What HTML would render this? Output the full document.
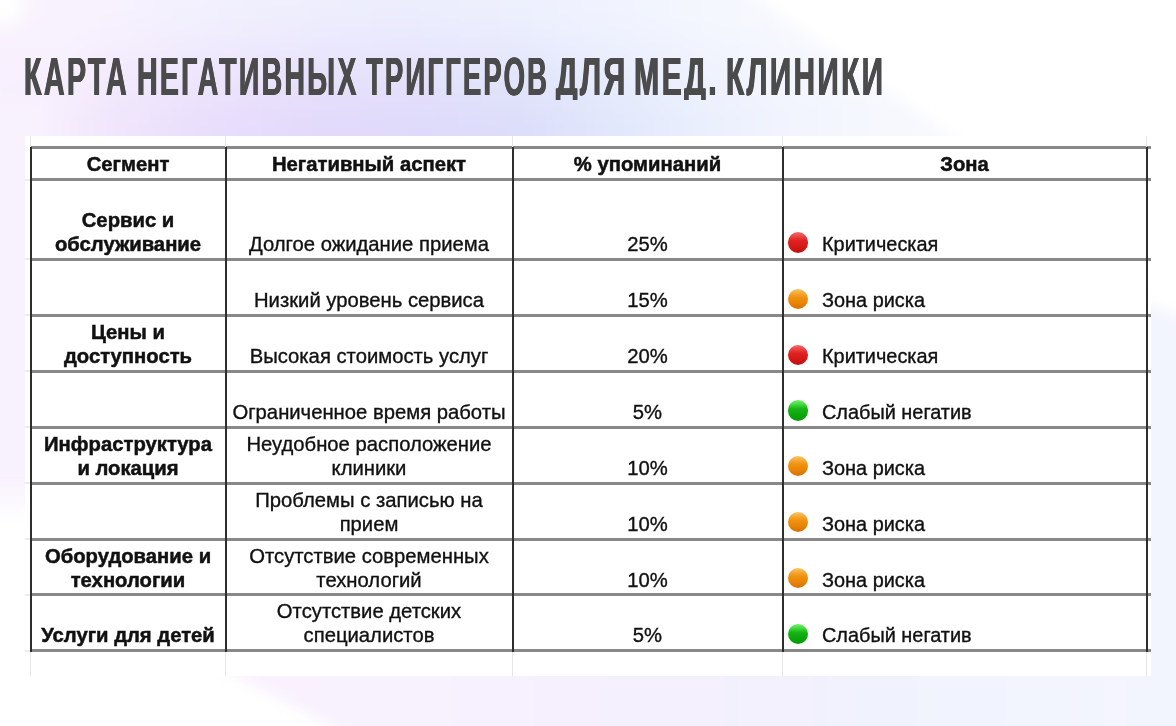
<!DOCTYPE html>
<html><head><meta charset="utf-8"><title>Карта негативных триггеров</title>
<style>
html,body{margin:0;padding:0}
body{width:1176px;height:726px;position:relative;overflow:hidden;background:#fff;font-family:"Liberation Sans",Arial,sans-serif}
#bg{position:absolute;left:0;top:0;width:1176px;height:726px;overflow:hidden}
.blur{position:absolute;left:0;top:0;width:1176px;height:726px;filter:blur(7px)}
.blob{position:absolute}
#topblob{left:-60px;top:-60px;width:1300px;height:240px;
 clip-path:polygon(0 0, 734px 0, 1074px 240px, 0 240px);
 background:linear-gradient(90deg, #f8f0fd 0px, #f6edfd 120px, #f1e6fc 170px, #eadefc 260px, #e4dafb 360px, #dfdafb 480px, #dcdefa 580px, #e2e8fc 680px, #eaeffd 760px, #f1f4fe 840px, #f6f8fe 940px, #f9fafe 1100px);}
#toplight{left:-60px;top:-60px;width:1300px;height:240px;
 clip-path:polygon(0 0, 734px 0, 1074px 240px, 0 240px);
 background:linear-gradient(90deg, #f9f3fe 0px, #f8f2fe 150px, #f3f1fe 240px, #efeffd 340px, #ecedfd 460px, #edf0fd 580px, #f1f4fe 680px, #f5f7fe 780px, #f9fafe 900px);
 -webkit-mask-image:linear-gradient(180deg, #000 60px, rgba(0,0,0,0.85) 90px, rgba(0,0,0,0.45) 130px, rgba(0,0,0,0.1) 175px, rgba(0,0,0,0) 196px);
 mask-image:linear-gradient(180deg, #000 60px, rgba(0,0,0,0.85) 90px, rgba(0,0,0,0.45) 130px, rgba(0,0,0,0.1) 175px, rgba(0,0,0,0) 196px);}
#leftblob{left:-40px;top:100px;width:90px;height:440px;
 background:linear-gradient(180deg,#f8f1fe 0px,#f8f1fe 375px,rgba(248,241,254,0) 425px)}
#botblob{left:0;top:656px;width:1240px;height:100px;
 clip-path:polygon(198px 0, 1240px 0, 1240px 100px, 388px 100px);
 background:linear-gradient(90deg,#f9f2fe 230px,#f7f0fe 500px,#f4f0fd 700px,#f0f2fd 880px,#f2f4fe 1060px,#f6f7fe 1176px)}
#rightblob{left:1130px;top:298px;width:80px;height:470px;
 clip-path:polygon(0 0, 100% 30px, 100% 100%, 0 100%);
 background:#f2f4fe}
#corner{left:-25px;top:-25px;width:56px;height:56px;border-radius:50%;background:radial-gradient(circle,#fff 35%,rgba(255,255,255,0) 70%)}
h1{position:absolute;left:0;top:50px;margin:0;width:1176px;height:49.5px;overflow:hidden;font-weight:bold;font-size:53.2px;line-height:1;white-space:nowrap;color:#4b4b4b}
h1 span{position:absolute;top:0;transform-origin:0 0;letter-spacing:4.2px;text-shadow:0.7px 0 0 #4b4b4b,-0.7px 0 0 #4b4b4b}
#box{position:absolute;left:25px;top:136px;width:1126px;height:540px;background:#fff}
.hl{position:absolute;left:30px;width:1121px;height:3px;background:#888}
.vl{position:absolute;top:147px;height:505px;width:2px;background:#2e2e2e}
.fv{position:absolute;width:1px;background:#e6e6e6}
.fh{position:absolute;left:25px;width:5px;height:2px;background:#ececec}
.t{position:absolute;font-size:20.25px;line-height:24px;height:24px;white-space:nowrap;text-align:center;color:#111;-webkit-text-stroke:0.35px #111}
.t.l{text-align:left}
.b{font-weight:bold;-webkit-text-stroke:0.5px #111}
.dot{position:absolute;left:788px;width:20.4px;height:20.4px;border-radius:50%}
.red{background:linear-gradient(180deg, #f06a6a 0%, #ec4a4a 18%, #e02222 40%, #d41818 70%, #bf1010 100%)}
.orange{background:linear-gradient(180deg, #f9c46a 0%, #f6ae3e 18%, #ef920f 42%, #e88406 70%, #d87000 100%)}
.green{background:linear-gradient(180deg, #6ef06a 0%, #4ade45 18%, #18b418 42%, #0aa60a 70%, #089a08 100%)}
</style></head><body>
<div id="bg"><div class="blur"><div class="blob" id="topblob"></div><div class="blob" id="toplight"></div><div class="blob" id="leftblob"></div><div class="blob" id="botblob"></div><div class="blob" id="rightblob"></div><div class="blob" id="corner"></div></div></div>
<h1 id="title"><span style="left:24.38px;transform:scaleX(0.5409)">КАРТА</span> <span style="left:136.69px;transform:scaleX(0.536)">НЕГАТИВНЫХ</span> <span style="left:365.5px;transform:scaleX(0.5167)">ТРИГГЕРОВ</span> <span style="left:556.0px;transform:scaleX(0.5681)">ДЛЯ</span> <span style="left:633.79px;transform:scaleX(0.5698)">МЕД.</span> <span style="left:725.82px;transform:scaleX(0.56)">КЛИНИКИ</span></h1>
<div id="box"></div>
<div class="hl" style="top:146.3px"></div>
<div class="hl" style="top:178.0px"></div>
<div class="hl" style="top:257.8px"></div>
<div class="hl" style="top:313.9px"></div>
<div class="hl" style="top:369.9px"></div>
<div class="hl" style="top:425.7px"></div>
<div class="hl" style="top:481.5px"></div>
<div class="hl" style="top:537.5px"></div>
<div class="hl" style="top:593.4px"></div>
<div class="hl" style="top:649.1px"></div>
<div class="vl" style="left:30.00px"></div>
<div class="fv" style="left:30.0px;top:136px;height:11px"></div>
<div class="fv" style="left:30.0px;top:652px;height:24px"></div>
<div class="vl" style="left:225.00px"></div>
<div class="fv" style="left:225.0px;top:136px;height:11px"></div>
<div class="fv" style="left:225.0px;top:652px;height:24px"></div>
<div class="vl" style="left:512.00px"></div>
<div class="fv" style="left:512.0px;top:136px;height:11px"></div>
<div class="fv" style="left:512.0px;top:652px;height:24px"></div>
<div class="vl" style="left:782.00px"></div>
<div class="fv" style="left:782.0px;top:136px;height:11px"></div>
<div class="fv" style="left:782.0px;top:652px;height:24px"></div>
<div class="vl" style="left:1146.00px"></div>
<div class="fv" style="left:1146.0px;top:136px;height:11px"></div>
<div class="fv" style="left:1146.0px;top:652px;height:24px"></div>
<div class="fh" style="top:178.5px"></div>
<div class="fh" style="top:258.3px"></div>
<div class="fh" style="top:314.4px"></div>
<div class="fh" style="top:370.4px"></div>
<div class="fh" style="top:426.2px"></div>
<div class="fh" style="top:482.0px"></div>
<div class="fh" style="top:538.0px"></div>
<div class="fh" style="top:593.9px"></div>
<div class="fh" style="top:649.6px"></div>
<div class="t b" style="left:-22.0px;top:152.07px;width:300px">Сегмент</div>
<div class="t b" style="left:219.0px;top:152.07px;width:300px">Негативный аспект</div>
<div class="t b" style="left:497.5px;top:152.07px;width:300px">% упоминаний</div>
<div class="t b" style="left:814.5px;top:152.07px;width:300px">Зона</div>
<div class="t b" style="left:-22.0px;top:208.17px;width:300px">Сервис и</div>
<div class="t b" style="left:-22.0px;top:232.17px;width:300px">обслуживание</div>
<div class="t n" style="left:219.0px;top:232.17px;width:300px">Долгое ожидание приема</div>
<div class="t n" style="left:497.5px;top:232.17px;width:300px">25%</div>
<div class="dot red" style="top:232.40px"></div>
<div class="t n l" style="left:822.0px;top:232.17px;font-size:19.9px">Критическая</div>
<div class="t n" style="left:219.0px;top:288.27px;width:300px">Низкий уровень сервиса</div>
<div class="t n" style="left:497.5px;top:288.27px;width:300px">15%</div>
<div class="dot orange" style="top:288.50px"></div>
<div class="t n l" style="left:822.0px;top:288.27px;font-size:19.9px">Зона риска</div>
<div class="t b" style="left:-22.0px;top:320.27px;width:300px">Цены и</div>
<div class="t b" style="left:-22.0px;top:344.27px;width:300px">доступность</div>
<div class="t n" style="left:219.0px;top:344.27px;width:300px">Высокая стоимость услуг</div>
<div class="t n" style="left:497.5px;top:344.27px;width:300px">20%</div>
<div class="dot red" style="top:344.50px"></div>
<div class="t n l" style="left:822.0px;top:344.27px;font-size:19.9px">Критическая</div>
<div class="t n" style="left:219.0px;top:400.07px;width:300px">Ограниченное время работы</div>
<div class="t n" style="left:497.5px;top:400.07px;width:300px">5%</div>
<div class="dot green" style="top:400.30px"></div>
<div class="t n l" style="left:822.0px;top:400.07px;font-size:19.9px">Слабый негатив</div>
<div class="t b" style="left:-22.0px;top:431.87px;width:300px">Инфраструктура</div>
<div class="t b" style="left:-22.0px;top:455.87px;width:300px">и локация</div>
<div class="t n" style="left:219.0px;top:431.87px;width:300px">Неудобное расположение</div>
<div class="t n" style="left:219.0px;top:455.87px;width:300px">клиники</div>
<div class="t n" style="left:497.5px;top:455.87px;width:300px">10%</div>
<div class="dot orange" style="top:456.10px"></div>
<div class="t n l" style="left:822.0px;top:455.87px;font-size:19.9px">Зона риска</div>
<div class="t n" style="left:219.0px;top:487.87px;width:300px">Проблемы с записью на</div>
<div class="t n" style="left:219.0px;top:511.87px;width:300px">прием</div>
<div class="t n" style="left:497.5px;top:511.87px;width:300px">10%</div>
<div class="dot orange" style="top:512.10px"></div>
<div class="t n l" style="left:822.0px;top:511.87px;font-size:19.9px">Зона риска</div>
<div class="t b" style="left:-22.0px;top:543.77px;width:300px">Оборудование и</div>
<div class="t b" style="left:-22.0px;top:567.77px;width:300px">технологии</div>
<div class="t n" style="left:219.0px;top:543.77px;width:300px">Отсутствие современных</div>
<div class="t n" style="left:219.0px;top:567.77px;width:300px">технологий</div>
<div class="t n" style="left:497.5px;top:567.77px;width:300px">10%</div>
<div class="dot orange" style="top:568.00px"></div>
<div class="t n l" style="left:822.0px;top:567.77px;font-size:19.9px">Зона риска</div>
<div class="t b" style="left:-22.0px;top:623.47px;width:300px">Услуги для детей</div>
<div class="t n" style="left:219.0px;top:599.47px;width:300px">Отсутствие детских</div>
<div class="t n" style="left:219.0px;top:623.47px;width:300px">специалистов</div>
<div class="t n" style="left:497.5px;top:623.47px;width:300px">5%</div>
<div class="dot green" style="top:623.70px"></div>
<div class="t n l" style="left:822.0px;top:623.47px;font-size:19.9px">Слабый негатив</div>
</body></html>
